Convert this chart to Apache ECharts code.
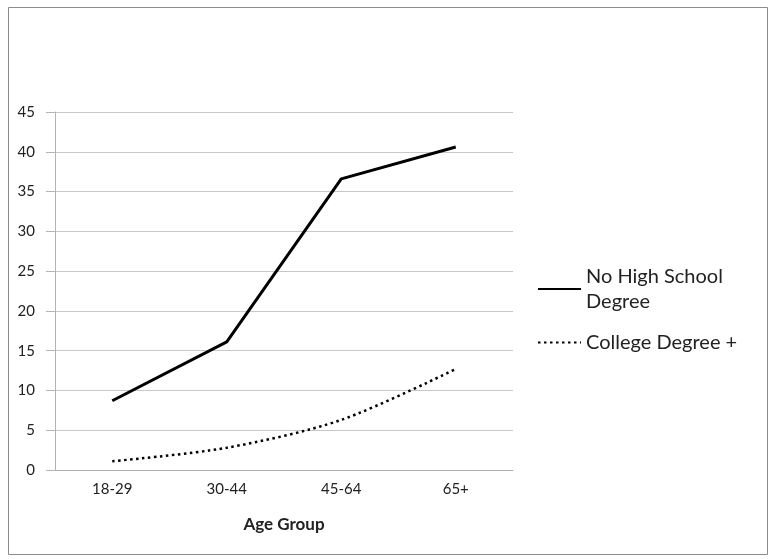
<!DOCTYPE html>
<html><head><meta charset="utf-8">
<script src="https://cdn.jsdelivr.net/npm/echarts@6/dist/echarts.min.js"></script>
<style>html,body{margin:0;padding:0;background:#fff}#c{width:771px;height:559px}</style>
</head><body><div id="c"></div>
<script>
var categories = ['18-29', '30-44', '45-64', '65+'];
var noHighSchool = [8.7, 16.1, 36.6, 40.6];
var collegeDegree = [1.1, 2.8, 6.3, 12.7];
var yTicks = [0, 5, 10, 15, 20, 25, 30, 35, 40, 45];
var seriesNames = ['No High School Degree', 'College Degree +'];

var font = 'Lato, "Open Sans", sans-serif';
var chart = echarts.init(document.getElementById('c'));
chart.setOption({
  animation: false,
  backgroundColor: '#fff',
  graphic: [{
    type: 'rect', left: 6, top: 5,
    shape: { width: 759, height: 547 },
    style: { fill: 'none', stroke: '#8c8c8c', lineWidth: 1 }
  }],
  grid: { left: 55, right: 258, top: 112, bottom: 89 },
  legend: {
    orient: 'vertical', left: 537, top: 264, padding: 0,
    itemWidth: 43, itemHeight: 12, itemGap: 16,
    itemStyle: { opacity: 0 },
    data: seriesNames,
    formatter: function (n) { return n === seriesNames[0] ? 'No High School\nDegree' : n; },
    textStyle: { fontFamily: font, fontSize: 20, color: '#222', lineHeight: 25 }
  },
  xAxis: {
    type: 'category', data: categories, boundaryGap: true,
    name: 'Age Group', nameLocation: 'middle', nameGap: 46,
    nameTextStyle: { fontFamily: font, fontSize: 17, fontWeight: 'bold', color: '#222' },
    axisLine: { lineStyle: { color: '#b3b3b3', width: 1 } },
    axisTick: { show: false },
    axisLabel: { fontFamily: font, fontSize: 15, color: '#222', margin: 12 }
  },
  yAxis: {
    type: 'value', min: yTicks[0], max: yTicks[yTicks.length - 1], interval: 5,
    axisLine: { show: true, lineStyle: { color: '#b3b3b3', width: 1 } },
    axisTick: { show: true, length: 9, inside: false, lineStyle: { color: '#b3b3b3' } },
    splitLine: { lineStyle: { color: '#c8c8c8', width: 1 } },
    axisLabel: { fontFamily: font, fontSize: 15, color: '#222', margin: 20 }
  },
  series: [{
    name: seriesNames[0], type: 'line', data: noHighSchool,
    symbol: 'none', color: '#000',
    lineStyle: { color: '#000', width: 3, type: 'solid' }
  }, {
    name: seriesNames[1], type: 'line', data: collegeDegree,
    symbol: 'none', smooth: 0.3, color: '#000',
    lineStyle: { color: '#000', width: 2.5, type: [2.5, 3.5] }
  }]
});
</script></body></html>
